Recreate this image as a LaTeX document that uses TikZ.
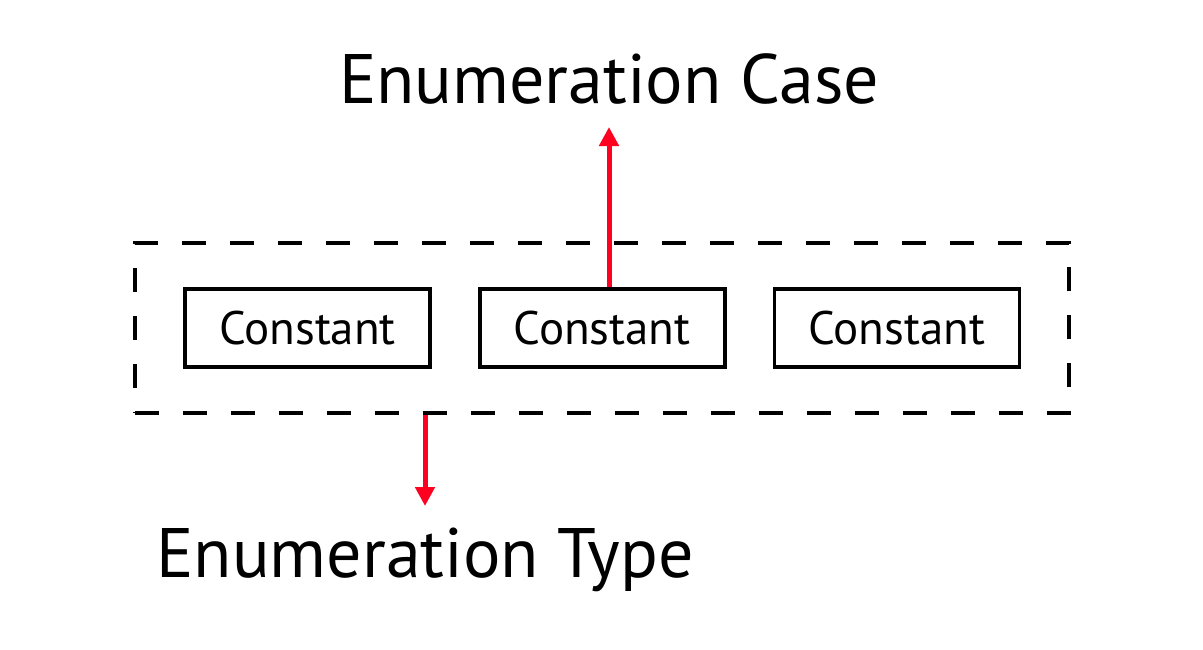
\documentclass[tikz,border=0pt]{standalone}
\usepackage{fontspec}
\setmainfont{PT Sans}
\usetikzlibrary{positioning,fit,arrows.meta}
\definecolor{case red}{RGB}{255,0,32}
\tikzset{constbox/.style={draw, line width=3.7pt, minimum width=245pt, minimum height=78pt,
		inner sep=0pt, font=\fontsize{47}{56}\selectfont},
	groupbox/.style={draw, line width=3.7pt, dash pattern=on 24pt off 24pt},
	title/.style={inner sep=0pt, anchor=base, font=\fontsize{70}{84}\selectfont},
	pointer/.style={draw=case red, line width=5pt, -{Triangle[width=19pt,length=19pt]}}}

\begin{document}
\begin{tikzpicture}[x=1pt,y=-1pt]
		\useasboundingbox (0,0) rectangle (1203,649);
		\node[constbox] (c1) at (307.5,328) {Constant};
		\node[constbox, right=46pt of c1] (c2) {Constant};
		\node[constbox, right=46pt of c2] (c3) {Constant};
		\node[groupbox, fit=(c1)(c3), inner xsep=48pt, inner ysep=44.4pt] (grp) {};
		
		\node[title] (case) at (609,103) {Enumeration Case};
		\node[title] (type) at (425,577) {Enumeration Type};
		\draw[pointer] (c2.north -| case.base) -- ([yshift=-24pt]case.base);
		\draw[pointer] (grp.south -| type.base) -- ([yshift=71pt]type.base);
		\end{tikzpicture}
\end{document}
